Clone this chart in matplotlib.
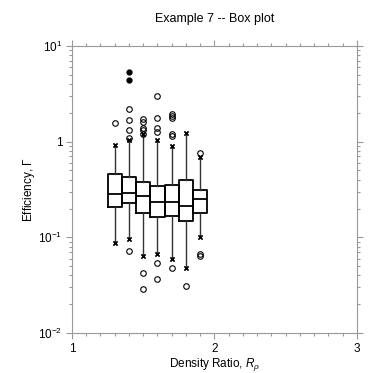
import matplotlib

matplotlib.use("Agg")
import matplotlib.pyplot as plt
from matplotlib.ticker import FixedLocator, FuncFormatter, MultipleLocator

plt.rcParams["font.family"] = ["Liberation Sans", "DejaVu Sans"]
plt.rcParams["mathtext.fontset"] = "custom"
plt.rcParams["mathtext.rm"] = "Liberation Sans"
plt.rcParams["mathtext.it"] = "Liberation Sans:italic"

# density ratio of each group
positions = [1.3, 1.4, 1.5, 1.6, 1.7, 1.8, 1.9]
q1 = [0.208, 0.227, 0.178, 0.164, 0.167, 0.147, 0.180]
medians = [0.286, 0.291, 0.268, 0.232, 0.236, 0.214, 0.249]
q3 = [0.459, 0.428, 0.379, 0.344, 0.353, 0.401, 0.313]
whisker_lo = [0.0866, 0.0969, 0.0644, 0.0665, 0.060, 0.048, 0.100]
whisker_hi = [0.923, 1.05, 1.19, 1.05, 0.908, 1.24, 0.692]
outliers = [
    [1.58],
    [1.10, 1.33, 1.69, 2.18, 0.072],
    [1.21, 1.33, 1.38, 1.59, 1.74, 0.042, 0.0289],
    [1.27, 1.38, 1.77, 3.0, 0.054, 0.037],
    [1.15, 1.21, 1.75, 1.84, 1.93, 0.048],
    [0.0308],
    [0.762, 0.067, 0.0644],
]
extreme_x = [1.4, 1.4]
extreme_y = [4.41, 5.35]

stats = []
for i in range(len(positions)):
    stats.append({
        "med": medians[i], "q1": q1[i], "q3": q3[i],
        "whislo": whisker_lo[i], "whishi": whisker_hi[i],
        "fliers": outliers[i],
    })

fig = plt.figure(figsize=(3.83, 3.73), dpi=100)
ax = fig.add_axes([0.188, 0.107, 0.744, 0.770])

ax.bxp(
    stats, positions=positions, widths=0.1, capwidths=0.0,
    boxprops=dict(color="black", linewidth=1.3),
    medianprops=dict(color="black", linewidth=1.3),
    whiskerprops=dict(color="#333333", linewidth=1.0),
    capprops=dict(color="black", marker="x", markersize=3, markeredgewidth=1.0, linestyle="none"),
    flierprops=dict(marker="o", markersize=4, markerfacecolor="none", markeredgecolor="black", markeredgewidth=0.8),
    manage_ticks=False,
)
ax.plot(extreme_x, extreme_y, "o", color="black", markersize=3.5, linestyle="none")

ax.set_yscale("log")
ax.set_xlim(1, 3)
ax.set_ylim(0.01, 10)

ax.xaxis.set_major_locator(FixedLocator([1, 2, 3]))
ax.xaxis.set_minor_locator(MultipleLocator(0.1))
ylabels = {10.0: "$10^{1}$", 1.0: "1", 0.1: "$10^{-1}$", 0.01: "$10^{-2}$"}
ax.yaxis.set_major_locator(FixedLocator([0.01, 0.1, 1, 10]))
ax.yaxis.set_major_formatter(FuncFormatter(lambda v, p: ylabels.get(round(v, 4), "")))

ax.tick_params(which="both", direction="out", color="#999999", labelsize=8.5,
               top=True, right=True, labeltop=False, labelright=False)
ax.tick_params(which="major", length=4, width=0.8, pad=3)
ax.tick_params(which="minor", length=2.2, width=0.8)
for spine in ax.spines.values():
    spine.set_color("#999999")
    spine.set_linewidth(0.8)

ax.set_xlabel(r"Density Ratio, $R_\rho$", fontsize=8.5, labelpad=1)
ax.set_ylabel(r"Efficiency, $\mathit{\Gamma}$", fontsize=8.5, labelpad=1)
ax.set_title("Example 7 -- Box plot", fontsize=9, pad=17)

fig.savefig("out.png", dpi=100)
